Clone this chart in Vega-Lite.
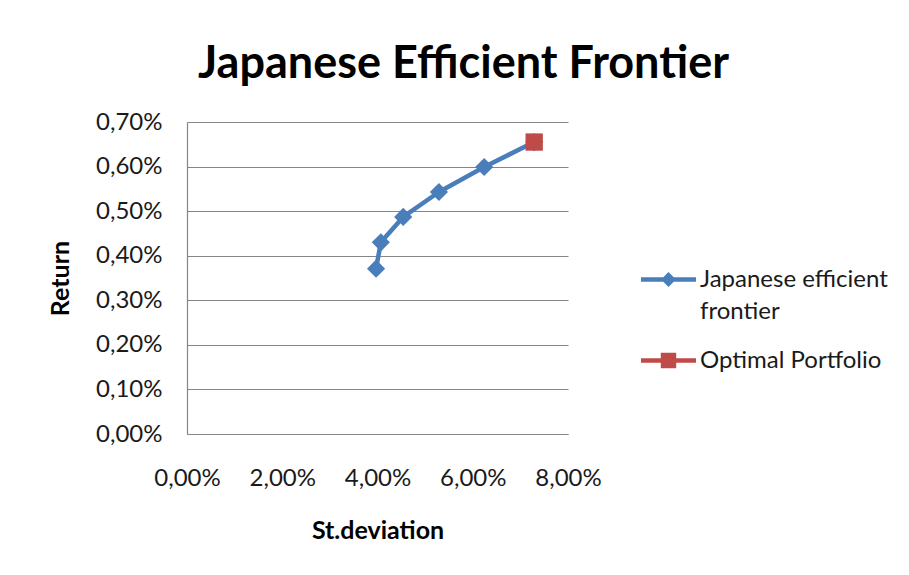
{
  "$schema": "https://vega.github.io/schema/vega-lite/v6.json",
  "width": 381,
  "height": 312,
  "autosize": {"type": "none"},
  "padding": {"left": 187, "top": 122, "right": 341, "bottom": 141},
  "background": "white",
  "title": {
    "text": "Japanese Efficient Frontier",
    "font": "Lato",
    "fontSize": 45,
    "fontWeight": "bold",
    "color": "#000000",
    "anchor": "middle",
    "frame": "group",
    "baseline": "alphabetic",
    "dx": 86,
    "offset": -13
  },
  "data": {
    "values": [
      {"series": "Japanese efficient frontier", "sd": 0.0397, "ret": 0.00371},
      {"series": "Japanese efficient frontier", "sd": 0.0407, "ret": 0.00430},
      {"series": "Japanese efficient frontier", "sd": 0.0454, "ret": 0.00487},
      {"series": "Japanese efficient frontier", "sd": 0.0529, "ret": 0.00543},
      {"series": "Japanese efficient frontier", "sd": 0.0624, "ret": 0.00599},
      {"series": "Japanese efficient frontier", "sd": 0.0729, "ret": 0.00655},
      {"series": "Optimal Portfolio", "sd": 0.0729, "ret": 0.00655}
    ]
  },
  "encoding": {
    "x": {
      "field": "sd",
      "type": "quantitative",
      "scale": {"domain": [0, 0.08], "nice": false, "zero": true},
      "axis": {
        "title": "St.deviation",
        "values": [0, 0.02, 0.04, 0.06, 0.08],
        "labelExpr": "replace(format(datum.value, '.2%'), '.', ',')",
        "grid": false,
        "labelFlush": false,
        "labelOverlap": false,
        "labelPadding": 32,
        "titlePadding": 28
      }
    },
    "y": {
      "field": "ret",
      "type": "quantitative",
      "scale": {"domain": [0, 0.007], "nice": false, "zero": true},
      "axis": {
        "title": "Return",
        "values": [0, 0.001, 0.002, 0.003, 0.004, 0.005, 0.006, 0.007],
        "labelExpr": "replace(format(datum.value, '.2%'), '.', ',')",
        "grid": true,
        "labelFlush": false,
        "labelOverlap": false,
        "labelPadding": 25,
        "titlePadding": 22
      }
    }
  },
  "layer": [
    {
      "transform": [{"filter": "datum.series == 'Japanese efficient frontier'"}],
      "mark": {"type": "line", "color": "#4A7EBB", "strokeWidth": 4.5, "strokeJoin": "round", "strokeCap": "round"}
    },
    {
      "transform": [{"filter": "datum.series == 'Japanese efficient frontier'"}],
      "mark": {"type": "point", "shape": "diamond", "filled": true, "size": 330, "opacity": 1},
      "encoding": {
        "color": {
          "field": "series",
          "type": "nominal",
          "scale": {"domain": ["Japanese efficient frontier"], "range": ["#4A7EBB"]},
          "legend": {
            "orient": "none",
            "legendX": 454,
            "legendY": 130,
            "title": null,
            "symbolType": "M-1,-0.082H1V0.082H-1Z M0,-0.27L0.27,0L0,0.27L-0.27,0Z",
            "symbolSize": 3025,
            "symbolStrokeWidth": 0,
            "symbolOpacity": 1,
            "labelFont": "Lato",
            "labelFontSize": 24,
            "labelColor": "#1a1a1a",
            "labelOffset": 4,
            "labelLimit": 400,
            "labelExpr": "['Japanese efficient', 'frontier']"
          }
        }
      }
    },
    {
      "transform": [{"filter": "datum.series == 'Optimal Portfolio'"}],
      "mark": {"type": "point", "shape": "square", "filled": true, "size": 300, "opacity": 1},
      "encoding": {
        "fill": {
          "field": "series",
          "type": "nominal",
          "scale": {"domain": ["Optimal Portfolio"], "range": ["#BE4B48"]},
          "legend": {
            "orient": "none",
            "legendX": 454,
            "legendY": 211,
            "title": null,
            "symbolType": "M-1,-0.082H1V0.082H-1Z M-0.28,-0.28H0.28V0.28H-0.28Z",
            "symbolSize": 3025,
            "symbolStrokeWidth": 0,
            "symbolOpacity": 1,
            "labelFont": "Lato",
            "labelFontSize": 24,
            "labelColor": "#1a1a1a",
            "labelOffset": 4,
            "labelLimit": 400
          }
        }
      }
    }
  ],
  "config": {
    "view": {"stroke": null},
    "style": {"guide-label": {"lineHeight": 32}},
    "axis": {
      "domainColor": "#868686",
      "domainWidth": 1.2,
      "gridColor": "#868686",
      "gridWidth": 1.2,
      "ticks": false,
      "tickSize": 0,
      "labelFont": "Lato",
      "labelFontSize": 24,
      "labelColor": "#1a1a1a",
      "titleFont": "Lato",
      "titleFontSize": 25,
      "titleFontWeight": "bold",
      "titleColor": "#000000"
    }
  }
}
